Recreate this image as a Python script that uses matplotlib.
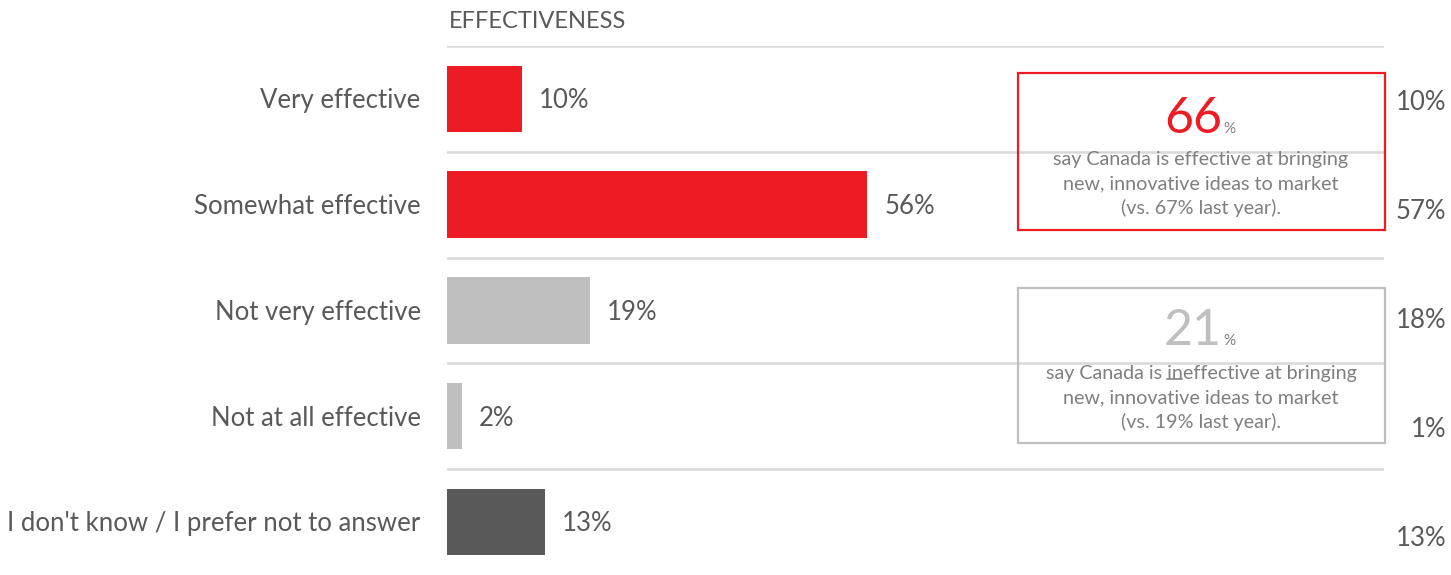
import matplotlib
matplotlib.use("Agg")
import matplotlib.pyplot as plt
from matplotlib.patches import Rectangle
from matplotlib.lines import Line2D

plt.rcParams['font.family'] = ['Lato', 'DejaVu Sans']

# survey answers
categories = ["Very effective", "Somewhat effective", "Not very effective",
              "Not at all effective", "I don't know / I prefer not to answer"]
values = [10, 56, 19, 2, 13]
last_year = [10, 57, 18, 1, 13]
effective_total = 66
ineffective_total = 21
effective_prev = 67
ineffective_prev = 19

RED = "#ED1C24"
LIGHT = "#BFBFBF"
DARK = "#595959"
TEXT = "#595959"
BODY = "#7F7F7F"
bar_colors = [RED, RED, LIGHT, LIGHT, DARK]

W, H = 1451, 575
fig = plt.figure(figsize=(W / 100, H / 100), dpi=100)


def fx(px):
    return px / W


def fy(py):
    return 1 - py / H


# bar panel
row_h = 105.75
top = 46
ax = fig.add_axes([fx(447), fy(top + 5 * row_h), fx(1384 - 447), 5 * row_h / H])
ax.set_xlim(0, (1384 - 447) / 7.5)
ax.set_ylim(5, 0)
ax.axis("off")

for i in range(5):
    ax.axhline(i, color="#D9D9D9", lw=1.8, zorder=0)

ys = [i + 0.5 for i in range(len(values))]
ax.barh(ys, values, height=0.63, color=bar_colors, zorder=2)
for y, v, c in zip(ys, values, categories):
    ax.text(v + 2.3, y + 0.02, f"{v}%", ha="left", va="center", fontsize=18.5, color=TEXT)
    ax.text(-3.5, y + 0.02, c, ha="right", va="center", fontsize=18.5, color=TEXT)

fig.text(fx(449), fy(21), "EFFECTIVENESS", ha="left", va="center",
         fontsize=17, color=TEXT)

# last year's column
for i, v in enumerate(last_year):
    fig.text(fx(1446), fy(103 + 108.75 * i), f"{v}%", ha="right", va="center",
             fontsize=18.5, color=TEXT)

# summary boxes
fig.add_artist(Rectangle((fx(1018), fy(230)), fx(1385 - 1018), (230 - 73) / H,
                         transform=fig.transFigure, fill=False, ec=RED, lw=1.6))
fig.add_artist(Rectangle((fx(1018), fy(443)), fx(1385 - 1018), (443 - 288) / H,
                         transform=fig.transFigure, fill=False, ec=LIGHT, lw=1.6))

cx = 1201
big = [(fig.text(fx(cx - 8), fy(133), f"{effective_total}", ha="center",
                 va="baseline", fontsize=36, color=RED), 133),
       (fig.text(fx(cx - 8), fy(345), f"{ineffective_total}", ha="center",
                 va="baseline", fontsize=36, color=LIGHT), 345)]

fig.canvas.draw()
renderer = fig.canvas.get_renderer()
for t, base in big:
    bb = t.get_window_extent(renderer)
    fig.text(bb.x1 / W + 0.001, fy(base), "%", ha="left", va="baseline",
             fontsize=11, color=BODY)

lines1 = ["say Canada is effective at bringing",
          "new, innovative ideas to market",
          f"(vs. {effective_prev}% last year)."]
lines2 = ["say Canada is ineffective at bringing",
          "new, innovative ideas to market",
          f"(vs. {ineffective_prev}% last year)."]
for k, s in enumerate(lines1):
    fig.text(fx(cx), fy(159 + 24.5 * k), s, ha="center", va="center",
             fontsize=14.2, color=BODY)
txt = None
for k, s in enumerate(lines2):
    t = fig.text(fx(cx), fy(373 + 24.5 * k), s, ha="center", va="center",
                 fontsize=14.2, color=BODY)
    if k == 0:
        txt = t

# underline "in" of "ineffective"
fig.canvas.draw()
bb = txt.get_window_extent(renderer)
probe = fig.text(0, 0, "say Canada is in", fontsize=14.2)
w_pre = probe.get_window_extent(renderer).width
probe.set_text("in")
w_in = probe.get_window_extent(renderer).width
probe.remove()
x_end = bb.x0 + w_pre
x_start = x_end - w_in
uy = bb.y0 + 3
fig.add_artist(Line2D([x_start / W, x_end / W], [uy / H, uy / H],
                      transform=fig.transFigure, color=BODY, lw=1.1))

fig.savefig("out.png", dpi=100)
